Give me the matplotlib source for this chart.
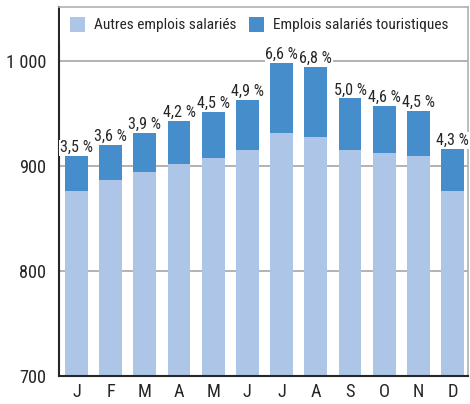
import matplotlib
matplotlib.use("Agg")
import matplotlib.pyplot as plt
from matplotlib import font_manager
from matplotlib.patches import Rectangle

months = ["J", "F", "M", "A", "M", "J", "J", "A", "S", "O", "N", "D"]
autres = [876, 886, 894, 902, 907, 915, 931, 927, 915, 912, 909, 876]
touristiques = [33, 34, 37, 41, 44, 48, 67, 67, 49, 45, 43, 40]
pct_labels = ["3,5 %", "3,6 %", "3,9 %", "4,2 %", "4,5 %", "4,9 %",
              "6,6 %", "6,8 %", "5,0 %", "4,6 %", "4,5 %", "4,3 %"]
yticks = [700, 800, 900, 1000]
ytick_labels = ["700", "800", "900", "1 000"]

# pick a narrow/condensed sans font if one is installed
cond_stretch = ("condensed", "semi-condensed", "extra-condensed", "ultra-condensed")
entries = font_manager.fontManager.ttflist
prefs = ["Liberation Sans Narrow", "Roboto Condensed", "Open Sans Condensed",
         "Noto Sans", "Open Sans", "DejaVu Sans"]
chosen = None
for p in prefs:
    for f in entries:
        if f.name.startswith(p) and f.style == "normal" and \
                (f.stretch in cond_stretch or "Narrow" in f.name or "Condensed" in f.name) \
                and str(f.weight) in ("400", "normal", "regular", "book"):
            chosen = f
            break
    if chosen:
        break
if chosen is not None:
    FP = dict(fname=chosen.fname)
else:
    FP = dict(family="Roboto")

light = "#ADC5E6"
dark = "#468DCC"
txt = "#262626"

fig = plt.figure(figsize=(4.70, 4.04), dpi=100)
ax = fig.add_axes([59 / 470, 1 - 376 / 404, (468 - 59) / 470, (376 - 7) / 404])
renderer = fig.canvas.get_renderer()


def fit_size(s, target_px, base=12.0):
    t = fig.text(0, 0, s, fontproperties=font_manager.FontProperties(size=base, **FP))
    w = t.get_window_extent(renderer).width
    t.remove()
    return base * target_px / w


leg_size = fit_size("Emplois salariés touristiques", 167) * 1.05
lab_size = fit_size("3,5 %", 31) * 1.06
tick_size = fit_size("1 000", 39) * 1.03

x = list(range(len(months)))
ax.bar(x, autres, width=0.67, color=light, zorder=2)
tops = [a + t for a, t in zip(autres, touristiques)]
ax.bar(x, touristiques, bottom=autres, width=0.67, color=dark, zorder=2)

for xi, top, lab in zip(x, tops, pct_labels):
    ax.text(xi, top + 1, lab, ha="center", va="bottom", color=txt, zorder=3,
            fontproperties=font_manager.FontProperties(size=lab_size, **FP),
            bbox=dict(facecolor="white", edgecolor="none", pad=0.5))

ax.set_xlim(-0.51, 11.45)
ax.set_ylim(700, 1051)
ax.set_yticks(yticks)
ax.set_yticklabels(ytick_labels)
ax.set_xticks(x)
ax.set_xticklabels(months)
for t in ax.get_xticklabels() + ax.get_yticklabels():
    t.set_fontproperties(font_manager.FontProperties(size=tick_size, **FP))
    t.set_color(txt)
ax.tick_params(axis="both", length=0)
ax.tick_params(axis="y", pad=9)
ax.tick_params(axis="x", pad=5)

ax.yaxis.grid(True, color="#A6A6A6", linewidth=1.2, zorder=0)
ax.set_axisbelow(True)

for s in ("left", "bottom"):
    ax.spines[s].set_color(txt)
    ax.spines[s].set_linewidth(1.5)
for s in ("top", "right"):
    ax.spines[s].set_color("#B0B0B0")
    ax.spines[s].set_linewidth(1.2)

# legend: two patches with labels, placed in figure pixel coordinates
fig_h = 404
fig.patches.append(Rectangle((60 / 470, 1 - 42 / fig_h), 407 / 470, 34 / fig_h,
                             transform=fig.transFigure, facecolor="white",
                             edgecolor="none", zorder=4))
leg_items = [("Autres emplois salariés", light, 70), ("Emplois salariés touristiques", dark, 249)]
for label, col, px in leg_items:
    fig.patches.append(Rectangle((px / 470, 1 - 32 / fig_h), 15 / 470, 15 / fig_h,
                                 transform=fig.transFigure, facecolor=col,
                                 edgecolor="none", zorder=5))
    fig.text((px + 24) / 470, 1 - 24.5 / fig_h, label, ha="left", va="center", color=txt,
             fontproperties=font_manager.FontProperties(size=leg_size, **FP), zorder=5)

fig.savefig("out.png", dpi=100)
